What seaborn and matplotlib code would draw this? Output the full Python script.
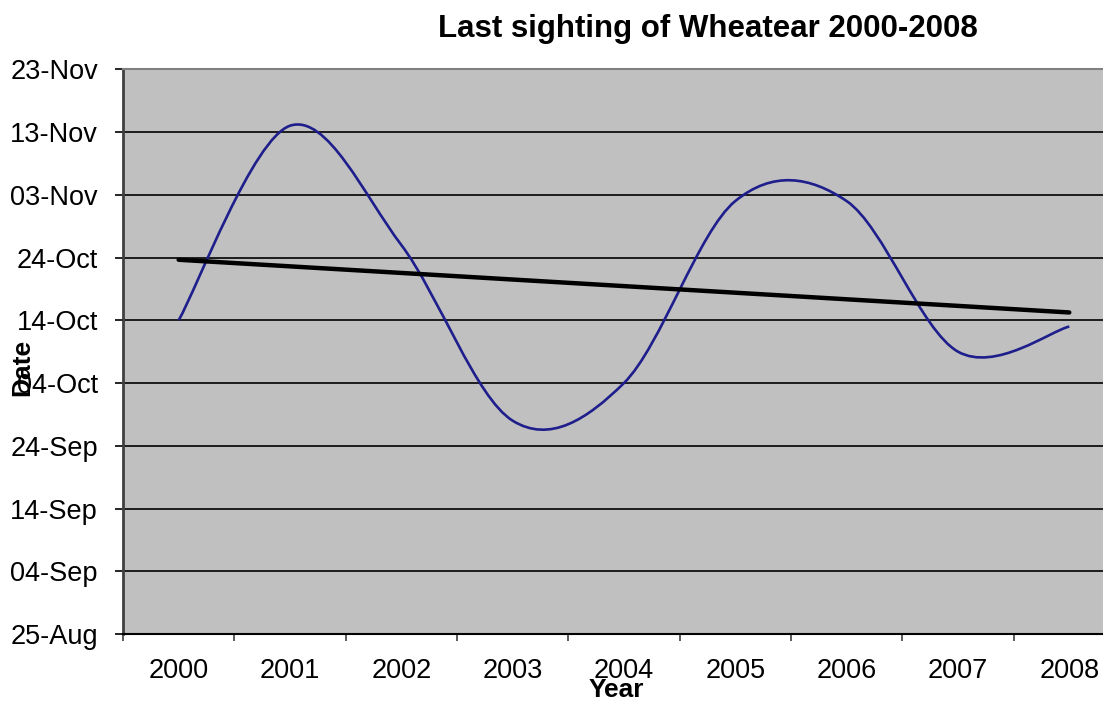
import matplotlib
matplotlib.use("Agg")
import matplotlib.pyplot as plt
import matplotlib.dates as mdates
from matplotlib.path import Path
from matplotlib.patches import PathPatch
from datetime import datetime
import numpy as np
import pandas as pd
import seaborn as sns

# ---------------------------------------------------------
# DATA
# ---------------------------------------------------------
years = ['2000', '2001', '2002', '2003', '2004', '2005', '2006', '2007', '2008']
last_seen = ['14-Oct', '14-Nov', '26-Oct', '28-Sep', '04-Oct', '02-Nov', '02-Nov', '09-Oct', '13-Oct']
date_ticks = ['25-Aug', '04-Sep', '14-Sep', '24-Sep', '04-Oct',
              '14-Oct', '24-Oct', '03-Nov', '13-Nov', '23-Nov']


def to_num(s):
    # all dates put on the same (arbitrary) year so only day/month matters
    return mdates.date2num(datetime.strptime(s + '-2000', '%d-%b-%Y'))


df = pd.DataFrame({
    'year': years,
    'pos': np.arange(len(years)),
    'date': [to_num(s) for s in last_seen],
})

# ---------------------------------------------------------
# PLOTTING
# ---------------------------------------------------------
sns.set_theme(style="ticks")
plt.rcParams['font.family'] = ['Liberation Sans', 'DejaVu Sans']
plt.rcParams['text.color'] = 'black'

fig = plt.figure(figsize=(11.03, 7.04), dpi=100)
ax = fig.add_axes([0.1115, 0.0994, 0.9084, 0.8022])
ax.set_facecolor('#C0C0C0')

# smoothed line (Excel-style bezier through the points)
pts = df[['pos', 'date']].to_numpy(dtype=float)
padded = np.vstack([pts[0], pts, pts[-1]])
verts = [pts[0]]
codes = [Path.MOVETO]
for i in range(len(pts) - 1):
    p0, p1, p2, p3 = padded[i], padded[i + 1], padded[i + 2], padded[i + 3]
    c1 = p1 + (p2 - p0) / 6
    c2 = p2 - (p3 - p1) / 6
    verts += [c1, c2, p2]
    codes += [Path.CURVE4] * 3
ax.add_patch(PathPatch(Path(verts, codes), fill=False, edgecolor='#1e1e8c',
                       lw=1.9, zorder=3))

# linear trend line
sns.regplot(data=df, x='pos', y='date', ax=ax, scatter=False, ci=None,
            line_kws=dict(color='black', lw=3.2, solid_capstyle='round', zorder=4))

# axes
ax.set_xlim(-0.5, len(years) - 0.5)
ax.set_ylim(to_num(date_ticks[0]), to_num(date_ticks[-1]))
ax.set_yticks([to_num(t) for t in date_ticks], date_ticks)
ax.set_xticks(np.arange(-0.5, len(years), 1.0), [''] * (len(years) + 1))
ax.set_xticks(np.arange(len(years)), years, minor=True)
ax.tick_params(axis='x', which='major', length=5, width=1.2, color='#404040', direction='out')
ax.tick_params(axis='x', which='minor', length=0, pad=17, labelsize=19.5, labelcolor='black')
ax.tick_params(axis='y', length=6, width=1.2, color='black', pad=12, labelsize=19.5,
               labelcolor='black')
ax.set_xlabel('')
ax.set_ylabel('')

ax.yaxis.grid(True, color='black', lw=1.2)
ax.xaxis.grid(False)
ax.set_axisbelow(True)

ax.spines['left'].set_color('#404040')
ax.spines['left'].set_linewidth(2)
ax.spines['bottom'].set_color('black')
ax.spines['bottom'].set_linewidth(1.5)
ax.spines['top'].set_visible(True)
ax.spines['top'].set_color('#808080')
ax.spines['top'].set_linewidth(1.5)
ax.spines['right'].set_visible(False)

# titles
fig.text(708 / 1103, 1 - 29 / 704, 'Last sighting of Wheatear 2000-2008',
         ha='center', va='center', fontsize=22.5, fontweight='bold')
fig.text(22 / 1103, 1 - 367 / 704, 'Date', rotation=90,
         ha='center', va='center', fontsize=19, fontweight='bold')
fig.text(616 / 1103, 1 - 690 / 704, 'Year',
         ha='center', va='center', fontsize=19, fontweight='bold')

plt.savefig('out.png', dpi=100)
